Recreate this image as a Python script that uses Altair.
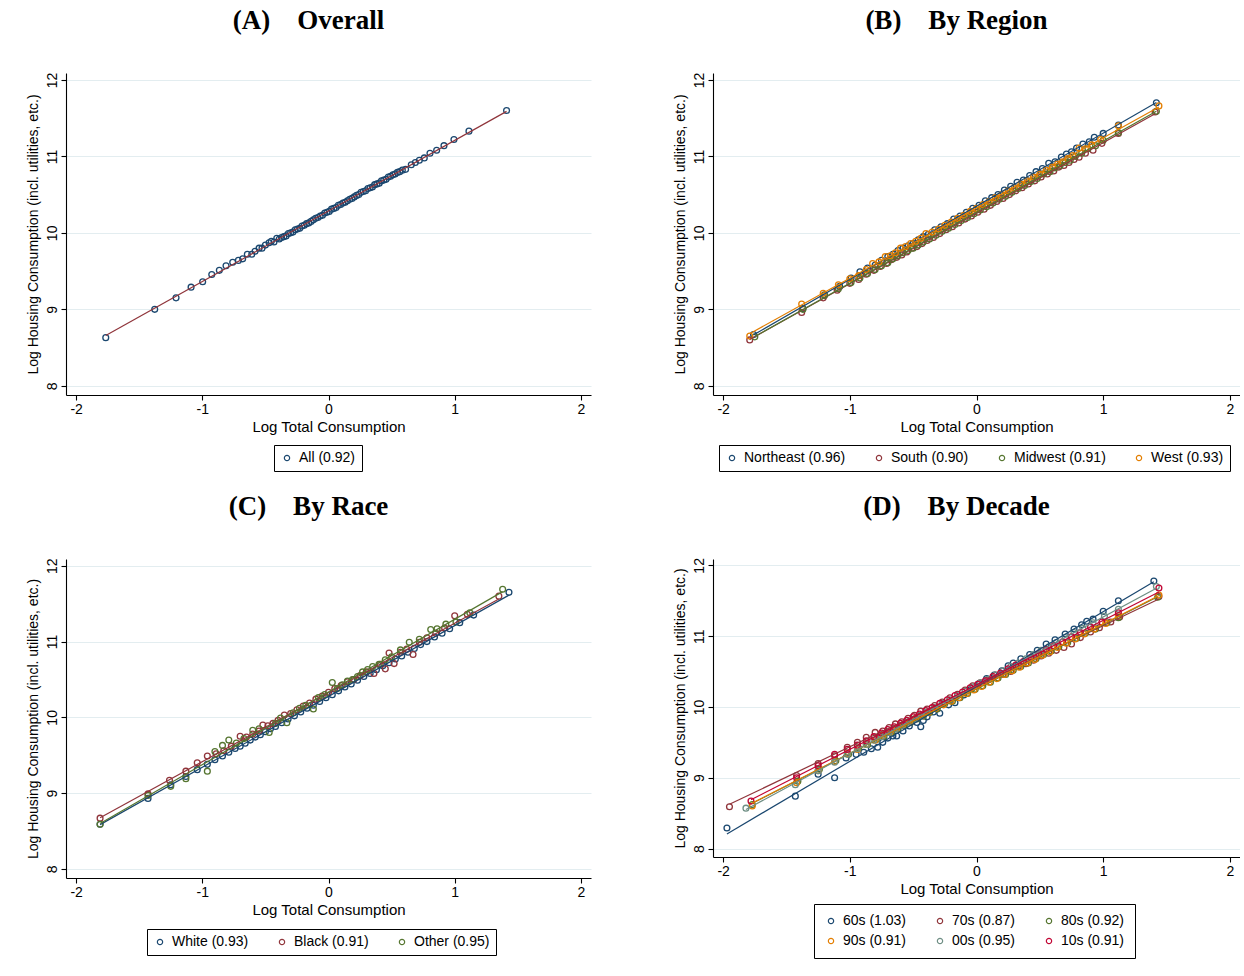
import altair as alt
import pandas as pd

# ---------------- data ----------------
# Panel A: overall
A_x = [-1.765, -1.377, -1.208, -1.089, -0.997, -0.925, -0.865, -0.812, -0.759, -0.714, -0.68,
       -0.643, -0.608, -0.582, -0.55, -0.527, -0.50, -0.471, -0.453, -0.432, -0.41,
       -0.39, -0.372, -0.354, -0.336, -0.318, -0.30, -0.282, -0.264, -0.246, -0.228, -0.21,
       -0.192, -0.174, -0.156, -0.138, -0.12, -0.102, -0.084, -0.066, -0.048, -0.03, -0.012,
       0.006, 0.024, 0.042, 0.06, 0.078, 0.096, 0.114, 0.132, 0.15, 0.168, 0.186, 0.204,
       0.222, 0.24, 0.258, 0.276, 0.294, 0.312, 0.33, 0.348, 0.366, 0.384, 0.402, 0.42,
       0.438, 0.456, 0.474, 0.492, 0.51, 0.528, 0.546, 0.564, 0.585,
       0.611, 0.656, 0.688, 0.72, 0.759, 0.804, 0.857, 0.915, 0.994, 1.113, 1.411]
A_y = [8.63, 9.00, 9.15, 9.29, 9.36, 9.455, 9.51, 9.57, 9.615, 9.64, 9.66,
       9.72, 9.72, 9.76, 9.80, 9.80, 9.84, 9.87, 9.89, 9.88, 9.93,
       9.92, 9.94, 9.95, 9.96, 9.99, 10.00, 10.01, 10.04, 10.05, 10.06, 10.09,
       10.10, 10.12, 10.13, 10.15, 10.17, 10.19, 10.20, 10.22, 10.23, 10.26, 10.27,
       10.28, 10.31, 10.32, 10.33, 10.36, 10.37, 10.39, 10.40, 10.42, 10.44, 10.45, 10.47,
       10.49, 10.50, 10.53, 10.54, 10.55, 10.58, 10.59, 10.60, 10.63, 10.64, 10.65, 10.68,
       10.69, 10.70, 10.73, 10.74, 10.76, 10.77, 10.79, 10.80, 10.82,
       10.83, 10.89, 10.92, 10.95, 10.98, 11.04, 11.08, 11.14, 11.22, 11.33, 11.60]

# Panel B: by region
NE_x = [-1.76, -1.37, -1.20, -1.08, -0.99, -0.92, -0.86, -0.80, -0.75, -0.70, -0.66, -0.62,
        -0.58, -0.54, -0.50, -0.46, -0.42, -0.38, -0.33, -0.28, -0.23, -0.18, -0.13, -0.08,
        -0.03, 0.02, 0.07, 0.12, 0.17, 0.22, 0.27, 0.32, 0.37, 0.42, 0.47, 0.52, 0.57, 0.62,
        0.67, 0.71, 0.75, 0.79, 0.84, 0.89, 0.93, 1.00, 1.12, 1.42]
NE_y = [8.67, 9.01, 9.19, 9.30, 9.41, 9.49, 9.54, 9.58, 9.64, 9.69, 9.72, 9.77,
        9.80, 9.83, 9.86, 9.91, 9.95, 9.98, 10.04, 10.08, 10.12, 10.18, 10.22, 10.27,
        10.32, 10.36, 10.42, 10.46, 10.50, 10.56, 10.61, 10.66, 10.69, 10.75, 10.80, 10.84,
        10.91, 10.93, 10.99, 11.03, 11.06, 11.11, 11.16, 11.19, 11.25, 11.30, 11.41, 11.70]
SO_x = [-1.79, -1.38, -1.21, -1.10, -1.00, -0.93, -0.87, -0.81, -0.76, -0.71, -0.67, -0.63,
        -0.59, -0.55, -0.51, -0.47, -0.43, -0.39, -0.34, -0.29, -0.24, -0.19, -0.14, -0.09,
        -0.04, 0.01, 0.06, 0.11, 0.16, 0.21, 0.26, 0.31, 0.36, 0.41, 0.46, 0.51, 0.56, 0.61,
        0.65, 0.69, 0.73, 0.77, 0.81, 0.86, 0.92, 0.99, 1.12, 1.41]
SO_y = [8.60, 8.96, 9.15, 9.25, 9.34, 9.39, 9.46, 9.51, 9.56, 9.60, 9.65, 9.68,
        9.71, 9.75, 9.80, 9.82, 9.86, 9.90, 9.94, 9.99, 10.04, 10.08, 10.13, 10.18,
        10.22, 10.27, 10.31, 10.36, 10.41, 10.45, 10.50, 10.55, 10.59, 10.64, 10.68, 10.73,
        10.77, 10.81, 10.86, 10.88, 10.92, 10.96, 10.99, 11.04, 11.08, 11.17, 11.30, 11.58]
MW_x = [-1.75, -1.37, -1.20, -1.09, -0.99, -0.92, -0.86, -0.80, -0.75, -0.70, -0.66, -0.62,
        -0.58, -0.54, -0.50, -0.46, -0.42, -0.37, -0.32, -0.27, -0.22, -0.17, -0.12, -0.07,
        -0.02, 0.03, 0.08, 0.13, 0.18, 0.23, 0.28, 0.33, 0.38, 0.43, 0.48, 0.53, 0.58, 0.62,
        0.66, 0.70, 0.74, 0.78, 0.83, 0.88, 0.94, 1.00, 1.12, 1.42]
MW_y = [8.64, 9.00, 9.18, 9.27, 9.35, 9.41, 9.47, 9.52, 9.57, 9.61, 9.66, 9.70,
        9.74, 9.77, 9.80, 9.84, 9.88, 9.92, 9.97, 10.02, 10.06, 10.11, 10.16, 10.20,
        10.25, 10.30, 10.34, 10.39, 10.44, 10.48, 10.53, 10.58, 10.62, 10.67, 10.71, 10.77,
        10.80, 10.85, 10.88, 10.92, 10.95, 11.00, 11.04, 11.10, 11.14, 11.21, 11.31, 11.59]
WE_x = [-1.79, -1.38, -1.21, -1.09, -1.00, -0.93, -0.87, -0.82, -0.77, -0.72, -0.68, -0.64,
        -0.60, -0.56, -0.52, -0.48, -0.44, -0.40, -0.35, -0.30, -0.25, -0.20, -0.15, -0.10,
        -0.05, 0.00, 0.05, 0.10, 0.15, 0.20, 0.25, 0.30, 0.35, 0.40, 0.45, 0.50, 0.55, 0.60,
        0.64, 0.68, 0.72, 0.76, 0.81, 0.86, 0.91, 0.98, 1.12, 1.44]
WE_y = [8.65, 9.07, 9.21, 9.32, 9.40, 9.44, 9.52, 9.60, 9.62, 9.69, 9.70, 9.74,
        9.80, 9.82, 9.86, 9.89, 9.93, 9.99, 10.01, 10.05, 10.10, 10.14, 10.19, 10.23,
        10.28, 10.32, 10.37, 10.41, 10.46, 10.50, 10.55, 10.59, 10.64, 10.68, 10.73, 10.77,
        10.82, 10.86, 10.90, 10.93, 10.97, 11.01, 11.11, 11.10, 11.15, 11.22, 11.40, 11.66]

# Panel C: by race
WH_x = [-1.81, -1.43, -1.25, -1.13, -1.04, -0.96, -0.90, -0.84, -0.79, -0.74, -0.70, -0.66,
        -0.62, -0.58, -0.54, -0.50, -0.46, -0.42, -0.37, -0.32, -0.27, -0.22, -0.17, -0.12,
        -0.07, -0.02, 0.03, 0.08, 0.13, 0.18, 0.23, 0.28, 0.33, 0.38, 0.43, 0.48, 0.53, 0.58,
        0.63, 0.68, 0.73, 0.78, 0.84, 0.90, 0.96, 1.04, 1.15, 1.43]
WH_y = [8.59, 8.93, 9.11, 9.22, 9.31, 9.38, 9.44, 9.49, 9.54, 9.59, 9.62, 9.66,
        9.70, 9.74, 9.77, 9.81, 9.85, 9.88, 9.93, 9.98, 10.02, 10.07, 10.12, 10.16,
        10.21, 10.26, 10.30, 10.35, 10.40, 10.44, 10.49, 10.54, 10.58, 10.63, 10.68, 10.72,
        10.77, 10.81, 10.86, 10.91, 10.96, 11.00, 11.06, 11.11, 11.17, 11.25, 11.35, 11.65]
BL_x = [-1.81, -1.43, -1.26, -1.13, -1.04, -0.96, -0.89, -0.83, -0.77, -0.70, -0.65, -0.60,
        -0.55, -0.52, -0.48, -0.44, -0.40, -0.35, -0.30, -0.25, -0.20, -0.15, -0.10, -0.05,
        0.00, 0.05, 0.10, 0.15, 0.20, 0.25, 0.30, 0.36, 0.41, 0.45, 0.48, 0.52, 0.57, 0.62,
        0.67, 0.72, 0.78, 0.85, 0.92, 1.00, 1.10, 1.35]
BL_y = [8.67, 8.99, 9.17, 9.29, 9.40, 9.49, 9.52, 9.56, 9.62, 9.75, 9.74, 9.78,
        9.82, 9.90, 9.89, 9.92, 9.96, 10.03, 10.05, 10.10, 10.15, 10.19, 10.24, 10.28,
        10.33, 10.38, 10.42, 10.47, 10.50, 10.55, 10.60, 10.58, 10.70, 10.64, 10.85, 10.71,
        10.86, 10.90, 10.83, 10.99, 11.05, 11.11, 11.18, 11.34, 11.36, 11.60]
OT_x = [-1.81, -1.43, -1.25, -1.13, -0.96, -0.90, -0.84, -0.79, -0.73, -0.67, -0.60, -0.55,
        -0.47, -0.42, -0.38, -0.33, -0.28, -0.23, -0.18, -0.12, -0.08, -0.03, 0.03, 0.07,
        0.11, 0.15, 0.19, 0.23, 0.27, 0.31, 0.35, 0.40, 0.45, 0.50, 0.57, 0.64, 0.72, 0.81,
        0.86, 0.93, 1.01, 1.12, 1.38]
OT_y = [8.59, 8.97, 9.09, 9.19, 9.29, 9.55, 9.63, 9.70, 9.66, 9.72, 9.83, 9.85,
        9.80, 9.92, 9.99, 9.93, 10.06, 10.12, 10.16, 10.11, 10.26, 10.30, 10.46, 10.38,
        10.43, 10.48, 10.50, 10.54, 10.60, 10.63, 10.67, 10.70, 10.76, 10.80, 10.89, 10.99,
        11.03, 11.16, 11.17, 11.23, 11.26, 11.38, 11.69]

# Panel D: by decade
D60_x = [-1.97, -1.43, -1.25, -1.12, -1.03, -0.95, -0.89, -0.83, -0.78, -0.74, -0.70, -0.66,
         -0.63, -0.58, -0.53, -0.47, -0.44, -0.42, -0.39, -0.34, -0.29, -0.22, -0.17, -0.10,
         -0.04, 0.02, 0.08, 0.14, 0.20, 0.25, 0.29, 0.35, 0.42, 0.48, 0.55, 0.62, 0.70, 0.77,
         0.83, 0.87, 0.92, 1.00, 1.12, 1.40]
D60_y = [8.29, 8.74, 9.05, 9.00, 9.28, 9.33, 9.36, 9.41, 9.43, 9.50, 9.56, 9.59,
         9.59, 9.66, 9.73, 9.78, 9.72, 9.81, 9.86, 9.93, 9.91, 10.03, 10.06, 10.17,
         10.26, 10.33, 10.40, 10.45, 10.51, 10.58, 10.62, 10.68, 10.74, 10.80, 10.89, 10.95,
         11.03, 11.10, 11.16, 11.21, 11.24, 11.35, 11.50, 11.78]
D70_x = [-1.95, -1.42, -1.25, -1.12, -1.02, -0.94, -0.87, -0.80, -0.74, -0.69, -0.64, -0.59,
         -0.54, -0.49, -0.44, -0.39, -0.33, -0.27, -0.21, -0.15, -0.09, -0.03, 0.03, 0.09,
         0.15, 0.21, 0.27, 0.33, 0.39, 0.45, 0.51, 0.57, 0.63, 0.69, 0.75, 0.82, 0.90, 0.97,
         1.06, 1.13, 1.44]
D70_y = [8.59, 9.03, 9.20, 9.31, 9.43, 9.50, 9.57, 9.64, 9.66, 9.71, 9.76, 9.79,
         9.84, 9.88, 9.94, 9.97, 10.02, 10.07, 10.13, 10.18, 10.24, 10.30, 10.34, 10.38,
         10.45, 10.46, 10.50, 10.57, 10.61, 10.66, 10.72, 10.76, 10.80, 10.84, 10.89, 10.98,
         11.06, 11.12, 11.20, 11.27, 11.56]
D80_x = [-1.77, -1.41, -1.24, -1.11, -1.01, -0.93, -0.86, -0.79, -0.73, -0.67, -0.62, -0.57,
         -0.52, -0.47, -0.42, -0.37, -0.31, -0.25, -0.19, -0.13, -0.07, -0.01, 0.05, 0.11,
         0.17, 0.23, 0.29, 0.35, 0.41, 0.47, 0.53, 0.59, 0.65, 0.72, 0.79, 0.86, 0.94, 1.03,
         1.12, 1.43]
D80_y = [8.62, 8.95, 9.12, 9.24, 9.33, 9.42, 9.47, 9.54, 9.58, 9.64, 9.69, 9.74,
         9.78, 9.83, 9.87, 9.92, 9.97, 10.05, 10.08, 10.13, 10.19, 10.25, 10.30, 10.35,
         10.41, 10.46, 10.52, 10.57, 10.62, 10.68, 10.74, 10.79, 10.85, 10.91, 10.97, 11.04,
         11.10, 11.19, 11.26, 11.55]
D90_x = [-1.77, -1.42, -1.25, -1.12, -1.02, -0.94, -0.87, -0.80, -0.74, -0.68, -0.63, -0.58,
         -0.53, -0.48, -0.43, -0.38, -0.32, -0.26, -0.20, -0.14, -0.08, -0.02, 0.04, 0.10,
         0.16, 0.22, 0.28, 0.34, 0.40, 0.46, 0.52, 0.58, 0.64, 0.71, 0.78, 0.85, 0.93, 1.02,
         1.12, 1.44]
D90_y = [8.60, 8.93, 9.10, 9.23, 9.34, 9.40, 9.47, 9.53, 9.60, 9.65, 9.70, 9.75,
         9.79, 9.84, 9.88, 9.92, 9.98, 10.03, 10.08, 10.13, 10.19, 10.24, 10.29, 10.35,
         10.40, 10.46, 10.51, 10.56, 10.62, 10.67, 10.73, 10.78, 10.84, 10.90, 10.96, 11.03,
         11.10, 11.18, 11.29, 11.58]
D00_x = [-1.82, -1.43, -1.25, -1.12, -1.02, -0.94, -0.87, -0.81, -0.75, -0.69, -0.64, -0.59,
         -0.54, -0.49, -0.44, -0.39, -0.33, -0.27, -0.21, -0.15, -0.09, -0.03, 0.03, 0.09,
         0.15, 0.21, 0.27, 0.33, 0.39, 0.45, 0.51, 0.57, 0.63, 0.70, 0.77, 0.84, 0.92, 1.01,
         1.12, 1.42]
D00_y = [8.57, 8.90, 9.10, 9.22, 9.33, 9.41, 9.47, 9.53, 9.58, 9.64, 9.69, 9.74,
         9.79, 9.83, 9.88, 9.93, 9.99, 10.05, 10.10, 10.16, 10.22, 10.28, 10.34, 10.39,
         10.45, 10.51, 10.57, 10.62, 10.68, 10.74, 10.80, 10.85, 10.91, 10.98, 11.05, 11.11,
         11.19, 11.28, 11.38, 11.70]
D10_x = [-1.78, -1.42, -1.25, -1.12, -1.02, -0.94, -0.87, -0.81, -0.75, -0.70, -0.65, -0.60,
         -0.55, -0.50, -0.45, -0.40, -0.35, -0.29, -0.23, -0.17, -0.11, -0.05, 0.01, 0.07,
         0.13, 0.19, 0.25, 0.31, 0.37, 0.43, 0.49, 0.55, 0.61, 0.68, 0.75, 0.82, 0.90, 0.99,
         1.12, 1.44]
D10_y = [8.67, 9.00, 9.17, 9.33, 9.40, 9.46, 9.52, 9.58, 9.63, 9.68, 9.72, 9.77,
         9.81, 9.86, 9.90, 9.95, 9.99, 10.05, 10.10, 10.16, 10.21, 10.27, 10.32, 10.37,
         10.43, 10.48, 10.54, 10.59, 10.64, 10.70, 10.75, 10.81, 10.86, 10.92, 10.99, 11.05,
         11.13, 11.20, 11.33, 11.68]

A_labels = ["All (0.92)"]
B_labels = ["Northeast (0.96)", "South (0.90)", "Midwest (0.91)", "West (0.93)"]
C_labels = ["White (0.93)", "Black (0.91)", "Other (0.95)"]
D_labels = ["60s (1.03)", "70s (0.87)", "80s (0.92)", "90s (0.91)", "00s (0.95)", "10s (0.91)"]

NAVY, MAROON, FOREST, DKORANGE, TEAL, CRANBERRY = (
    "#1a476f", "#90353b", "#55752f", "#e37e00", "#6e8e84", "#c10534")


def frame(labels, series):
    rows = []
    for lab, (xs, ys) in zip(labels, series):
        for xv, yv in zip(xs, ys):
            rows.append({"x": xv, "y": yv, "g": lab})
    return pd.DataFrame(rows)


dfA = frame(A_labels, [(A_x, A_y)])
dfB = frame(B_labels, [(NE_x, NE_y), (SO_x, SO_y), (MW_x, MW_y), (WE_x, WE_y)])
dfC = frame(C_labels, [(WH_x, WH_y), (BL_x, BL_y), (OT_x, OT_y)])
dfD = frame(D_labels, [(D60_x, D60_y), (D70_x, D70_y), (D80_x, D80_y),
                       (D90_x, D90_y), (D00_x, D00_y), (D10_x, D10_y)])

FONT = "Liberation Sans"
GRID = "#e3edf0"


def panel(df, labels, colors, title, w, h, lx, ly, cols, pad=6, line_color=None):
    xenc = alt.X("x:Q",
                 scale=alt.Scale(domain=[-2.08, 2.08], nice=False, zero=False),
                 axis=alt.Axis(values=[-2, -1, 0, 1, 2], title="Log Total Consumption",
                               grid=False, labelExpr="datum.value + ''",
                               labelFont=FONT, titleFont=FONT, labelFontSize=14,
                               titleFontSize=15, titleFontWeight="normal",
                               labelColor="black", titleColor="black",
                               domainColor="black", domainWidth=1.1, tickColor="black",
                               tickSize=5, tickWidth=1.1, labelPadding=2, titlePadding=3))
    yenc = alt.Y("y:Q",
                 scale=alt.Scale(domain=[7.88, 12.09], nice=False, zero=False),
                 axis=alt.Axis(values=[8, 9, 10, 11, 12],
                               title="Log Housing Consumption (incl. utilities, etc.)",
                               grid=True, gridColor=GRID, gridWidth=1,
                               labelAngle=270, labelAlign="center", labelBaseline="bottom",
                               labelFont=FONT, titleFont=FONT, labelFontSize=14,
                               titleFontSize=14, titleFontWeight="normal",
                               labelColor="black", titleColor="black",
                               domainColor="black", domainWidth=1.1, tickColor="black",
                               tickSize=5, tickWidth=1.1, labelPadding=2, titlePadding=5))
    cscale = alt.Scale(domain=labels, range=colors)
    pts = alt.Chart(df).mark_point(filled=False, size=34, strokeWidth=1.3, opacity=1).encode(
        x=xenc, y=yenc,
        color=alt.Color("g:N", scale=cscale, sort=labels,
                        legend=alt.Legend(orient="none", legendX=lx, legendY=ly,
                                          direction="horizontal",
                                          columns=cols, title=None, padding=pad,
                                          strokeColor="black", fillColor="white",
                                          symbolType="circle", symbolSize=28,
                                          symbolStrokeWidth=1.2, labelFontSize=14,
                                          labelFont=FONT, labelColor="black",
                                          labelOffset=5, columnPadding=26,
                                          rowPadding=6, labelLimit=300)))
    if line_color is not None:
        lines = alt.Chart(df).transform_regression("x", "y").mark_line(
            color=line_color, strokeWidth=1.2).encode(x=xenc, y=yenc)
        lay = alt.layer(pts, lines)
    else:
        lines = alt.Chart(df).transform_regression("x", "y", groupby=["g"]).mark_line(
            strokeWidth=1.2).encode(
            x=xenc, y=yenc,
            color=alt.Color("g:N", scale=cscale, sort=labels, legend=None))
        lay = alt.layer(pts, lines).resolve_scale(color="independent")
    return lay.properties(
        width=w, height=h,
        title=alt.TitleParams(text=title, anchor="middle", frame="bounds",
                              font="Liberation Serif",
                              fontSize=27, fontWeight="bold", color="black",
                              baseline="alphabetic", offset=16))


SP = "\u00a0\u00a0\u00a0\u00a0"
pA = panel(dfA, A_labels, [NAVY], "(A)" + SP + "Overall", 525, 322, 208, 372, 1,
           line_color=MAROON)
pB = panel(dfB, B_labels, [NAVY, MAROON, FOREST, DKORANGE], "(B)" + SP + "By Region",
           527, 322, 6, 372, 4)
pC = panel(dfC, C_labels, [NAVY, MAROON, FOREST], "(C)" + SP + "By Race",
           525, 319, 81, 370, 3)
pD = panel(dfD, D_labels, [NAVY, MAROON, FOREST, DKORANGE, TEAL, CRANBERRY],
           "(D)" + SP + "By Decade", 527, 298, 101, 345, 3, pad=10)

row1 = alt.hconcat(pA, pB, spacing=82)
row2 = alt.hconcat(pC, pD, spacing=82)
chart = alt.vconcat(row1, row2, spacing=20).properties(
    padding={"left": 26, "top": 7, "right": 0, "bottom": 0},
    background="white"
).configure_view(stroke=None)

chart.save("out.html", embed_options={"renderer": "svg", "actions": False})
